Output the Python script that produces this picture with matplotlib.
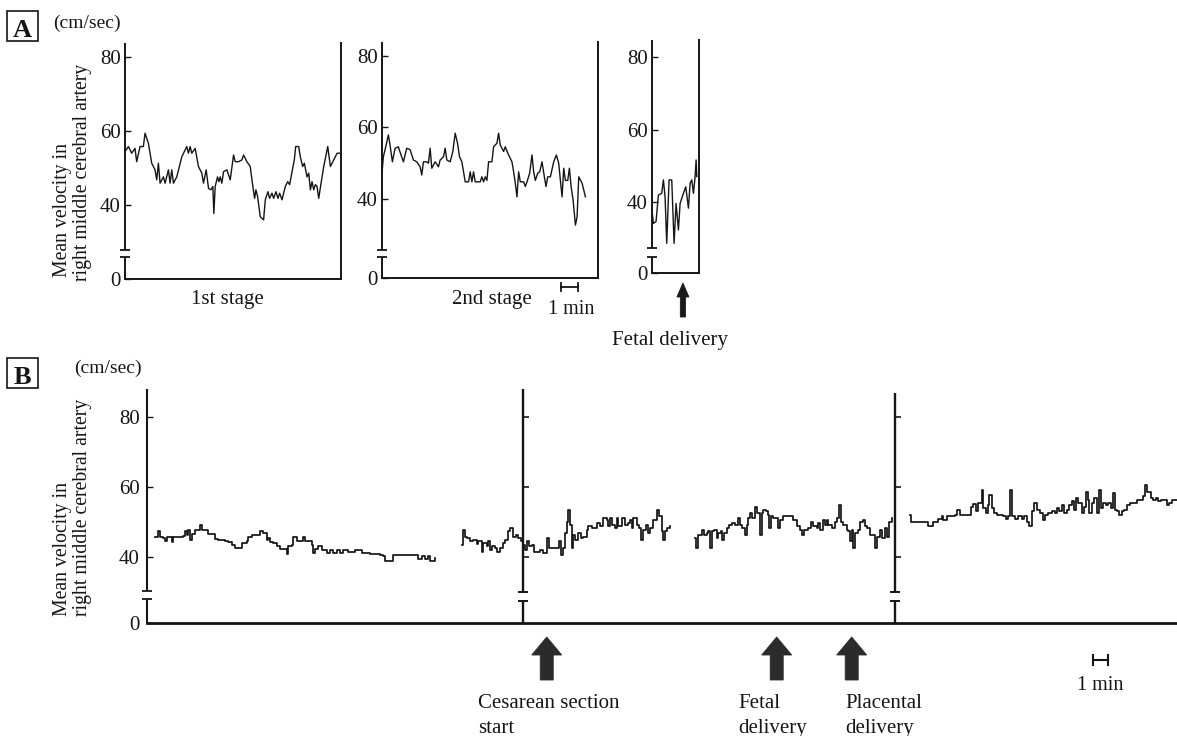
import matplotlib
matplotlib.use("Agg")
import matplotlib.pyplot as plt
import matplotlib.transforms as mtransforms
from matplotlib.patches import Polygon, Rectangle

plt.rcParams['font.family'] = ['Liberation Serif', 'DejaVu Serif']

# ---------------- data (time in minutes, velocity in cm/sec) ----------------
tick_vals = [40, 60, 80]
tick_labels = ['0', '40', '60', '80']

# Panel A, 1st stage
a1_t = [0, 0.2, 0.4, 0.6, 0.7, 0.9, 1.1, 1.2, 1.4, 1.6, 1.8, 1.9, 2.0, 2.1, 2.3, 2.4, 2.6, 2.7, 2.8, 2.9,
        3.1, 3.4, 3.7, 3.8, 3.9, 4.0, 4.2, 4.4, 4.6, 4.7, 4.86, 5.0, 5.14, 5.26, 5.32, 5.4, 5.54, 5.62, 5.7, 5.8,
        5.9, 6.1, 6.3, 6.5, 6.6, 6.8, 7.0, 7.1, 7.3, 7.5, 7.6, 7.76, 7.84, 7.94, 8.1, 8.3, 8.4, 8.56, 8.66, 8.8,
        8.9, 9.04, 9.16, 9.26, 9.4, 9.6, 9.74, 9.86, 10.0, 10.14, 10.22, 10.4, 10.5, 10.64, 10.74, 10.9, 11.0,
        11.1, 11.2, 11.3, 11.4, 11.5, 11.6, 11.74, 11.9, 12.14, 12.3, 12.5, 12.7, 12.9]
a1_v = [54.4, 55.8, 54.0, 55.3, 51.7, 55.8, 55.8, 59.4, 56.7, 51.3, 49.5, 46.8, 51.3, 45.9, 47.6, 45.9, 49.5, 45.9, 49.5, 45.9,
        47.6, 53.0, 55.8, 54.0, 55.8, 54.0, 55.3, 50.4, 48.6, 45.9, 49.5, 44.5, 44.1, 45.0, 37.7, 45.0, 47.6, 46.3, 47.6, 45.9,
        49.0, 49.5, 46.8, 53.5, 51.7, 51.7, 52.2, 53.5, 51.7, 50.4, 46.8, 41.8, 44.1, 42.3, 36.8, 36.0, 41.4, 43.6, 41.8, 43.2,
        41.8, 43.6, 41.8, 43.2, 41.4, 45.0, 46.3, 45.5, 49.0, 52.2, 55.8, 55.8, 53.0, 50.4, 51.3, 47.6, 48.6,
        44.1, 46.3, 44.1, 45.5, 45.0, 41.8, 45.9, 50.4, 55.8, 50.4, 52.2, 54.0, 54.0]

# Panel A, 2nd stage
a2_t = [0, 0.1, 0.24, 0.4, 0.5, 0.64, 0.8, 1.0, 1.1, 1.3, 1.5, 1.7, 1.9, 2.1, 2.3, 2.4, 2.5, 2.7, 2.8, 2.9,
        3.0, 3.2, 3.4, 3.5, 3.7, 3.8, 3.9, 4.1, 4.26, 4.4, 4.54, 4.66, 4.8, 5.0, 5.2, 5.3, 5.4, 5.5, 5.6, 5.9,
        6.0, 6.1, 6.2, 6.3, 6.4, 6.6, 6.7, 6.9, 7.0, 7.1, 7.3, 7.4, 7.6, 7.8, 7.9, 8.0, 8.1, 8.2, 8.3, 8.5,
        8.6, 8.7, 8.86, 9.0, 9.1, 9.2, 9.34, 9.46, 9.6, 9.74, 9.84, 9.94, 10.1, 10.3, 10.46, 10.6, 10.7, 10.8,
        10.9, 11.0, 11.14, 11.24, 11.34, 11.46, 11.6, 11.7, 11.8, 12.0, 12.2]
a2_v = [46.2, 51.8, 54.6, 57.9, 55.1, 50.4, 54.2, 54.6, 53.1, 50.4, 54.2, 53.8, 50.9, 50.4, 49.0, 46.7, 50.4, 50.4, 50.0, 54.2,
        48.6, 50.4, 49.0, 50.9, 51.8, 54.2, 50.9, 50.4, 53.3, 58.4, 55.6, 51.8, 50.4, 44.8, 44.8, 47.6, 44.8, 47.6, 44.8, 44.8,
        46.2, 44.8, 46.2, 45.2, 50.4, 50.4, 54.6, 55.6, 58.4, 55.1, 53.3, 54.6, 52.3, 50.4, 47.6, 44.4, 40.6, 47.6, 44.8, 44.8,
        43.5, 44.8, 47.2, 52.3, 47.6, 45.2, 47.2, 47.6, 50.4, 46.2, 43.5, 46.2, 46.2, 50.4, 52.3, 50.0, 45.2, 40.6,
        48.6, 45.2, 45.2, 48.6, 43.5, 39.7, 32.7, 35.0, 46.2, 44.4, 40.6]

# Panel A, around fetal delivery
a3_t = [0, 0.1, 0.26, 0.4, 0.6, 0.7, 0.8, 0.9, 1.04, 1.2, 1.34, 1.46, 1.6, 1.7, 1.9, 2.04, 2.2, 2.3, 2.4, 2.5,
        2.6, 2.66, 2.7]
a3_v = [38.7, 34.1, 34.6, 41.9, 42.4, 46.1, 41.5, 28.6, 46.1, 46.1, 28.6, 39.6, 32.3, 39.6, 42.4, 44.2, 38.3, 45.2, 46.1, 42.4,
        47.0, 51.6, 47.0]
a3_event_t = 1.87

# Panel B (cesarean section), four recorded segments
b1_t = [0.56, 0.78, 0.89, 1.11, 1.22, 1.33, 1.56, 1.67, 1.78, 2.44, 2.56, 2.67, 2.78, 2.89, 3.0, 3.22, 3.56, 3.67, 4.0, 4.11,
        4.33, 4.56, 4.78, 5.0, 5.22, 5.44, 5.67, 5.89, 6.22, 6.33, 6.67, 6.78, 7.0, 7.22, 7.56, 7.78, 8.0, 8.11, 8.22, 8.44,
        8.67, 8.89, 9.22, 9.33, 9.44, 9.67, 9.78, 10.0, 10.22, 10.44, 10.56, 10.78, 11.0, 11.11, 11.22, 11.44, 11.67, 12.0,
        12.22, 12.44, 12.67, 12.89, 13.11, 13.44, 13.67, 13.89, 14.11, 14.33, 14.89, 15.56, 15.78, 15.89, 16.22, 16.44,
        17.33, 18.0, 18.11, 18.33, 18.56, 18.78, 18.89, 19.2]
b1_v = [45.8, 47.3, 45.8, 45.4, 44.4, 45.6, 45.6, 44.1, 45.8, 46.0, 47.3, 46.3, 47.6, 44.9, 46.6, 47.7, 49.2, 47.7, 47.7, 46.6,
        46.6, 45.1, 44.7, 44.9, 44.4, 44.1, 43.4, 42.5, 42.5, 43.9, 44.4, 45.8, 46.3, 46.3, 47.3, 46.8, 44.9, 45.4, 44.1, 43.9,
        43.0, 42.2, 42.2, 40.9, 43.0, 43.4, 45.6, 44.4, 44.4, 45.8, 44.4, 44.4, 43.4, 41.0, 42.2, 43.0, 42.0, 41.2,
        42.0, 41.2, 41.8, 41.2, 42.0, 41.5, 41.5, 41.8, 42.0, 41.0, 40.9, 40.6, 40.1, 38.9, 38.9, 40.6,
        40.6, 40.6, 39.3, 40.1, 39.3, 40.1, 38.7, 39.5]

b2_t = [21.05, 21.11, 21.22, 21.33, 21.56, 21.78, 22.0, 22.11, 22.33, 22.44, 22.67, 22.78, 22.89, 23.0, 23.22, 23.33,
        23.56, 23.78, 23.89, 24.11, 24.22, 24.4, 24.62, 24.78, 24.93, 25.11, 25.22, 25.38, 25.51, 25.67, 25.82, 26.0,
        26.22, 26.44, 26.56, 26.71, 26.8, 27.11, 27.33, 27.49, 27.6, 27.73, 27.89, 28.0, 28.11, 28.22, 28.33, 28.44,
        28.56, 28.78, 28.93, 29.11, 29.33, 29.44, 29.67, 29.89, 30.0, 30.22, 30.44, 30.67, 30.78, 30.89, 31.0, 31.22,
        31.33, 31.44, 31.67, 31.89, 32.11, 32.22, 32.33, 32.44, 32.67, 32.84, 32.93, 33.11, 33.29, 33.44, 33.56, 33.78,
        34.0, 34.18, 34.33, 34.44, 34.56, 34.71, 34.89]
b2_v = [43.4, 47.7, 45.8, 45.4, 44.4, 44.9, 43.6, 44.4, 41.5, 43.9, 43.0, 44.4, 42.0, 43.0, 42.5, 41.5,
        42.5, 43.9, 44.9, 47.3, 48.2, 45.8, 46.3, 45.4, 44.4, 43.4, 42.0, 44.4, 43.0, 43.4, 41.5, 41.5,
        42.0, 41.1, 41.1, 45.4, 42.5, 42.5, 42.5, 44.4, 40.6, 42.5, 46.8, 50.1, 53.5, 49.2, 42.5, 46.3,
        44.9, 46.8, 45.4, 45.8, 47.7, 48.7, 48.2, 48.2, 49.7, 48.7, 51.1, 50.6, 48.7, 51.1, 49.2, 48.2,
        51.1, 48.7, 51.1, 49.2, 49.7, 50.6, 48.2, 51.1, 49.2, 48.2, 44.9, 47.7, 49.2, 46.8, 48.2, 50.6,
        53.5, 51.6, 47.3, 44.9, 47.3, 48.2, 48.7]

b3_t = [36.55, 36.62, 36.77, 37.0, 37.15, 37.33, 37.44, 37.55, 37.66, 37.82, 38.0, 38.1, 38.26, 38.37, 38.5, 38.66,
        38.84, 39.0, 39.22, 39.44, 39.55, 39.66, 39.88, 40.0, 40.1, 40.22, 40.37, 40.55, 40.71, 40.88, 41.0, 41.1,
        41.26, 41.44, 41.51, 41.6, 41.77, 42.0, 42.1, 42.22, 42.44, 42.66, 42.88, 43.1, 43.33, 43.55, 43.66, 43.82,
        44.1, 44.26, 44.44, 44.66, 44.77, 44.88, 45.06, 45.22, 45.33, 45.44, 45.66, 45.88, 46.04, 46.17, 46.26, 46.44,
        46.66, 46.77, 46.88, 47.0, 47.1, 47.22, 47.44, 47.55, 47.73, 47.88, 48.04, 48.22, 48.4, 48.55, 48.66, 48.88,
        49.04, 49.22, 49.33, 49.51, 49.66]
b3_v = [45.4, 42.5, 46.3, 47.7, 46.3, 46.8, 47.3, 42.5, 47.3, 47.7, 45.4, 46.8, 47.3, 44.9, 46.8, 48.2,
        49.2, 49.7, 49.2, 51.1, 49.2, 48.2, 46.3, 49.2, 51.1, 52.5, 51.1, 54.4, 52.5, 46.3, 52.5, 53.5,
        53.0, 52.1, 48.2, 51.6, 51.1, 51.1, 48.2, 50.6, 51.6, 51.6, 51.6, 50.6, 48.7, 47.7, 46.3, 47.7,
        48.2, 50.1, 48.7, 48.2, 49.7, 47.7, 50.6, 49.2, 50.6, 49.2, 48.2, 50.1, 51.1, 54.9, 50.1, 49.2,
        47.7, 47.3, 44.4, 47.7, 42.5, 46.8, 47.7, 50.1, 50.6, 48.7, 48.2, 46.3, 46.3, 42.5, 45.8, 47.7,
        45.4, 48.2, 45.8, 50.1, 51.1]

b4_t = [50.89, 50.93, 51.22, 51.89, 52.11, 52.33, 52.44, 52.78, 53.0, 53.11, 53.33, 53.89, 54.04, 54.22, 54.66, 54.93,
        55.11, 55.29, 55.44, 55.66, 55.78, 55.95, 56.06, 56.18, 56.33, 56.49, 56.66, 57.11, 57.29, 57.44, 57.55, 57.66,
        57.88, 58.11, 58.33, 58.49, 58.66, 58.84, 59.0, 59.15, 59.33, 59.55, 59.73, 59.89, 60.11, 60.33, 60.55, 60.66,
        60.84, 61.0, 61.15, 61.33, 61.49, 61.66, 61.82, 61.95, 62.11, 62.33, 62.49, 62.62, 62.73, 62.84, 63.0, 63.18,
        63.33, 63.49, 63.62, 63.78, 63.93, 64.11, 64.26, 64.44, 64.55, 64.71, 64.84, 65.0, 65.15, 65.33, 65.55, 65.77,
        66.0, 66.22, 66.44, 66.55, 66.71, 66.93, 67.11, 67.29, 67.44, 67.62, 67.82, 68.0, 68.18, 68.33, 68.55, 68.69]
b4_v = [52.1, 50.1, 50.1, 50.1, 48.7, 48.7, 50.1, 50.8, 51.6, 50.6, 51.8, 52.1, 53.3, 52.1, 52.1, 54.4,
        55.2, 53.0, 55.4, 59.2, 54.0, 52.5, 54.9, 57.8, 54.0, 52.5, 52.1, 51.8, 50.8, 51.8, 59.2, 51.6,
        50.8, 51.8, 50.8, 51.6, 50.1, 48.7, 53.0, 55.4, 53.5, 52.5, 50.6, 52.1, 52.5, 53.0, 52.5, 54.0,
        53.0, 54.9, 52.5, 53.5, 54.9, 55.9, 53.5, 56.8, 55.4, 52.5, 54.4, 58.7, 56.4, 52.5, 55.4, 56.8,
        52.5, 59.2, 54.0, 55.4, 54.9, 55.4, 54.0, 58.3, 53.5, 53.0, 52.1, 53.0, 53.5, 54.9, 55.4, 55.4,
        56.4, 56.4, 57.3, 60.7, 58.7, 56.8, 56.4, 56.8, 55.9, 56.4, 56.4, 54.9, 55.4, 56.4, 56.4, 56.4]

b_axis_breaks_t = [25.11, 49.87]
b_events = ['Cesarean section\nstart', 'Fetal\ndelivery', 'Placental\ndelivery']
b_events_t = [26.67, 42.0, 47.0]

# ---------------- figure ----------------
W, H, DPI = 1177, 736, 100
fig = plt.figure(figsize=(W / DPI, H / DPI), dpi=DPI)
fig.patch.set_facecolor('white')
INK = '#151515'


def fx(x):
    return x / W


def fy(y):
    return 1 - y / H


def px_axes(x0, y0, x1, y1):
    return fig.add_axes([x0 / W, 1 - y1 / H, (x1 - x0) / W, (y1 - y0) / H])


def broken_axis(ax, xmax, zero_pos, ytop, ppu, brk_hi, brk_lo, lw, right=False, pad=3):
    ax.set_xlim(0, xmax)
    ax.set_ylim(zero_pos, ytop)
    ax.patch.set_alpha(0)
    for s in ('top', 'left', 'right'):
        ax.spines[s].set_visible(False)
    ax.spines['bottom'].set_linewidth(lw)
    ax.spines['bottom'].set_color(INK)
    if right:
        ax.spines['right'].set_visible(True)
        ax.spines['right'].set_linewidth(lw)
        ax.spines['right'].set_color(INK)
    ax.set_xticks([])
    ax.set_yticks([zero_pos] + tick_vals)
    ax.set_yticklabels(tick_labels)
    ax.tick_params(axis='y', direction='in', length=4, width=1.0, pad=pad,
                   labelsize=15, colors=INK)
    hi = zero_pos + brk_hi / ppu
    lo = zero_pos + brk_lo / ppu
    ax.plot([0, 0], [hi, ytop], color=INK, lw=lw, clip_on=False, solid_capstyle='butt')
    ax.plot([0, 0], [zero_pos, lo], color=INK, lw=lw, clip_on=False, solid_capstyle='butt')
    ax.plot([0, 0], [hi, lo], ls='', marker='_', ms=7, mew=1.3, color=INK, clip_on=False)


# ---- Panel A ----
PPM_A = 16.7  # px per minute
axA1 = px_axes(125, 43, 341, 279)
broken_axis(axA1, (341 - 125) / PPM_A, 20, 20 + (279 - 43) / 3.7, 3.7, 29, 22, 1.4, right=True)
axA1.plot(a1_t, a1_v, color=INK, lw=1.0)

axA2 = px_axes(381.7, 42, 598, 278)
broken_axis(axA2, (598 - 381.7) / PPM_A, 17.9, 17.9 + (278 - 42) / 3.575, 3.575, 28, 21, 1.4, right=True)
axA2.plot(a2_t, a2_v, color=INK, lw=1.0)

axA3 = px_axes(651.7, 40, 699.3, 272.7)
broken_axis(axA3, (699.3 - 651.7) / PPM_A, 20.5, 20.5 + (272.7 - 40) / 3.625, 3.625, 25, 16, 1.4, right=True)
axA3.plot(a3_t, a3_v, color=INK, lw=1.0)

# Panel A annotations
fig.add_artist(Rectangle((fx(7), fy(41)), 31 / W, 30 / H, transform=fig.transFigure,
                         fill=False, lw=1.2, ec=INK))
fig.text(fx(22.5), fy(37), 'A', ha='center', va='baseline', fontsize=19, fontweight='bold', color=INK)
fig.text(fx(53), fy(23.5), '(cm/sec)', ha='left', va='center', fontsize=14, color=INK)
fig.text(fx(62), fy(277), 'Mean velocity in', rotation=90, ha='center', va='bottom', fontsize=14.2, color=INK)
fig.text(fx(82), fy(281), 'right middle cerebral artery', rotation=90, ha='center', va='bottom',
         fontsize=14.2, color=INK)
fig.text(fx(227), fy(300), '1st stage', ha='center', va='center', fontsize=15, color=INK)
fig.text(fx(492), fy(300), '2nd stage', ha='center', va='center', fontsize=15, color=INK)
fig.text(fx(571), fy(310), '1 min', ha='center', va='center', fontsize=14.5, color=INK)
fig.text(fx(612), fy(341), 'Fetal delivery', ha='left', va='center', fontsize=15, color=INK)

# 1-min scale bar for panel A (drawn on 2nd-stage time axis)
trA2 = mtransforms.blended_transform_factory(axA2.transData, fig.transFigure)
sb0 = 10.74
axA2.plot([sb0, sb0 + 1], [fy(286.7)] * 2, transform=trA2, color=INK, lw=1.3, clip_on=False)
for xx in (sb0, sb0 + 1):
    axA2.plot([xx, xx], [fy(283), fy(290.5)], transform=trA2, color=INK, lw=1.3, clip_on=False)


def block_arrow(ax, xc, hw, sw, y_tip, y_head, y_bot, color):
    tr = mtransforms.blended_transform_factory(ax.transData, fig.transFigure)
    pts = [(xc, fy(y_tip)), (xc + hw, fy(y_head)), (xc + sw, fy(y_head)), (xc + sw, fy(y_bot)),
           (xc - sw, fy(y_bot)), (xc - sw, fy(y_head)), (xc - hw, fy(y_head))]
    fig.add_artist(Polygon(pts, closed=True, transform=tr, fc=color, ec=color, lw=0.6))


block_arrow(axA3, a3_event_t, 6 / PPM_A, 2.6 / PPM_A, 283, 297, 317, '#1a1a1a')

# ---- Panel B ----
PPM_B = 15.0
ZB = 20.9
PPU_B = 3.485
axB = px_axes(146.7, 389, 1177, 623.3)
ytopB = ZB + (623.3 - 389) / PPU_B
broken_axis(axB, (1177 - 146.7) / PPM_B, ZB, ytopB, PPU_B, 32, 24, 1.5, pad=5)
axB.spines['bottom'].set_linewidth(2.0)
for seg_t, seg_v in ((b1_t, b1_v), (b2_t, b2_v), (b3_t, b3_v), (b4_t, b4_v)):
    axB.plot(seg_t, seg_v, color=INK, lw=1.25, drawstyle='steps-post', clip_on=False)

# additional axis lines inside panel B
for tb, top_px in zip(b_axis_breaks_t, (389, 393)):
    ytop = ZB + (623.3 - top_px) / PPU_B
    hi = ZB + 31 / PPU_B
    lo = ZB + 22 / PPU_B
    axB.plot([tb, tb], [hi, ytop], color=INK, lw=1.7, solid_capstyle='butt', clip_on=False)
    axB.plot([tb, tb], [ZB, lo], color=INK, lw=1.7, solid_capstyle='butt', clip_on=False)
    axB.plot([tb, tb], [hi, lo], ls='', marker='_', ms=7, mew=1.4, color=INK, clip_on=False)
    axB.plot([tb] * 3, tick_vals, ls='', marker=1, ms=4.5, mew=1.2, color=INK, clip_on=False)

# arrows and labels for panel B
for tev in b_events_t:
    block_arrow(axB, tev, 15 / PPM_B, 6.5 / PPM_B, 637, 655, 680, '#2b2b2b')
text_x = [478, 738, 845]
for lbl, xx in zip(b_events, text_x):
    lines = lbl.split('\n')
    fig.text(fx(xx), fy(708), lines[0], ha='left', va='baseline', fontsize=15, color=INK)
    fig.text(fx(xx), fy(733), lines[1], ha='left', va='baseline', fontsize=15, color=INK)

# 1-min scale bar for panel B
trB = mtransforms.blended_transform_factory(axB.transData, fig.transFigure)
sbB = 63.1
axB.plot([sbB, sbB + 1], [fy(660)] * 2, transform=trB, color=INK, lw=1.5, clip_on=False)
for xx in (sbB, sbB + 1):
    axB.plot([xx, xx], [fy(655), fy(665)], transform=trB, color=INK, lw=1.5, clip_on=False)
fig.text(fx(1100), fy(686), '1 min', ha='center', va='center', fontsize=14.5, color=INK)

fig.add_artist(Rectangle((fx(7), fy(388)), 31 / W, 30 / H, transform=fig.transFigure,
                         fill=False, lw=1.2, ec=INK))
fig.text(fx(22.5), fy(384), 'B', ha='center', va='baseline', fontsize=19, fontweight='bold', color=INK)
fig.text(fx(74), fy(368), '(cm/sec)', ha='left', va='center', fontsize=14, color=INK)
fig.text(fx(63), fy(616), 'Mean velocity in', rotation=90, ha='center', va='bottom', fontsize=14.2, color=INK)
fig.text(fx(83), fy(616), 'right middle cerebral artery', rotation=90, ha='center', va='bottom',
         fontsize=14.2, color=INK)

fig.savefig('out.png', dpi=DPI, facecolor='white')
